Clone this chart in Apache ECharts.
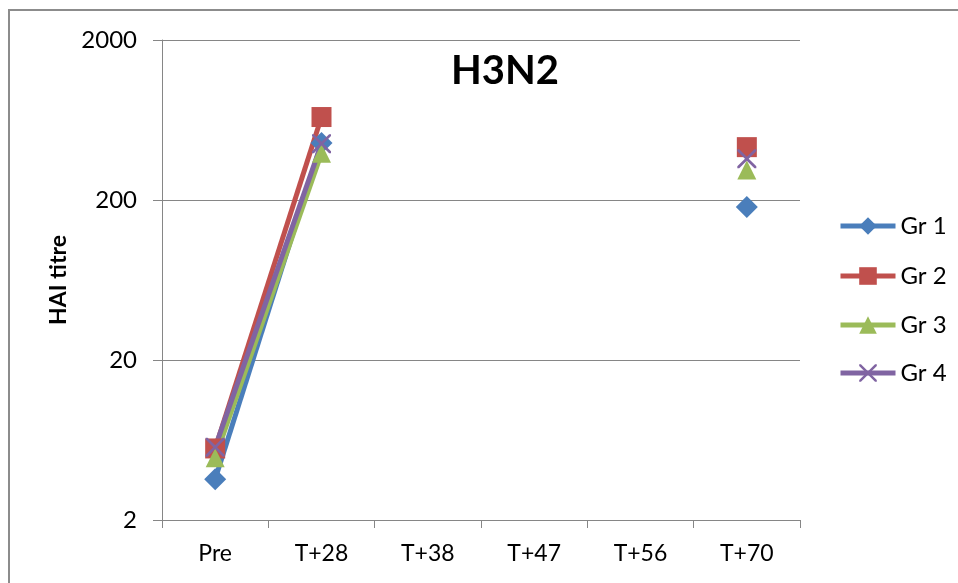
<!DOCTYPE html>
<html>
<head>
<meta charset="utf-8">
<script src="https://cdn.jsdelivr.net/npm/echarts@6/dist/echarts.min.js"></script>
<style>
  html, body { margin: 0; padding: 0; background: #fff; }
  #chart { width: 958px; height: 583px; }
</style>
</head>
<body>
<div id="chart"></div>
<script>
// time points
const categories = ['Pre', 'T+28', 'T+38', 'T+47', 'T+56', 'T+70']
const yTicks = [2, 20, 200, 2000]
// HAI titres per group (null = not measured)
const gr1 = [3.6, 455, null, null, null, 181]
const gr2 = [5.6, 660, null, null, null, 428]
const gr3 = [4.9, 392, null, null, null, 308]
const gr4 = [5.7, 450, null, null, null, 362]

const groupNames = ['Gr 1', 'Gr 2', 'Gr 3', 'Gr 4']
const groupColors = ['#4a7ebb', '#c0504d', '#9bbb59', '#8064a2']
const crossPath = 'path://M0,0 L2,0 L10,8 L18,0 L20,0 L20,2 L12,10 L20,18 L20,20 L18,20 L10,12 L2,20 L0,20 L0,18 L8,10 L0,2 Z'
const symbols = [['diamond', 22], ['rect', 20], ['triangle', 19], [crossPath, 19]]
const legendTops = [209, 259, 308, 356]
const font = 'Lato, "Open Sans", sans-serif'

const chart = echarts.init(document.getElementById('chart'))

const seriesData = [gr1, gr2, gr3, gr4]
const series = seriesData.map(function (d, i) {
  return {
    name: groupNames[i],
    type: 'line',
    data: d,
    connectNulls: false,
    showSymbol: true,
    symbol: symbols[i][0],
    symbolSize: symbols[i][1],
    lineStyle: { color: groupColors[i], width: 5 },
    itemStyle: { color: groupColors[i] },
    animation: false
  }
})

const legends = groupNames.map(function (n, i) {
  return {
    data: [n],
    left: 833,
    top: legendTops[i],
    itemWidth: 55,
    itemHeight: 22,
    itemGap: 4,
    lineStyle: { width: 5 },
    textStyle: { fontFamily: font, fontSize: 24, color: '#000' }
  }
})

chart.setOption({
  backgroundColor: '#fff',
  title: {
    text: 'H3N2',
    left: 500,
    top: 46,
    textAlign: 'center',
    textStyle: { fontFamily: font, fontSize: 40, fontWeight: 'bold', color: '#000' }
  },
  legend: legends,
  grid: { left: 162, right: 158, top: 40, bottom: 63 },
  xAxis: {
    type: 'category',
    data: categories,
    boundaryGap: true,
    axisLine: { lineStyle: { color: '#868686', width: 1 } },
    axisTick: { show: true, interval: 0, length: 8, lineStyle: { color: '#868686' } },
    axisLabel: { margin: 22, fontFamily: font, fontSize: 23, color: '#000' }
  },
  yAxis: {
    type: 'log',
    logBase: 10,
    min: yTicks[0],
    max: yTicks[yTicks.length - 1],
    name: 'HAI titre',
    nameLocation: 'middle',
    nameRotate: 90,
    nameGap: 90,
    nameTextStyle: { fontFamily: font, fontSize: 23, fontWeight: 'bold', color: '#000' },
    axisLine: { show: true, lineStyle: { color: '#868686', width: 1 } },
    axisTick: { show: true, length: 9, customValues: yTicks, lineStyle: { color: '#868686' } },
    axisLabel: {
      margin: 25,
      customValues: yTicks,
      formatter: function (v) { return String(v) },
      fontFamily: font, fontSize: 24, color: '#000'
    },
    splitLine: { show: true, lineStyle: { color: '#868686', width: 1 } }
  },
  graphic: [{
    type: 'rect',
    shape: { x: 9, y: 10, width: 1200, height: 1200 },
    style: { fill: null, stroke: '#8c8c8c', lineWidth: 2 },
    silent: true
  }],
  series: series
})
</script>
</body>
</html>
